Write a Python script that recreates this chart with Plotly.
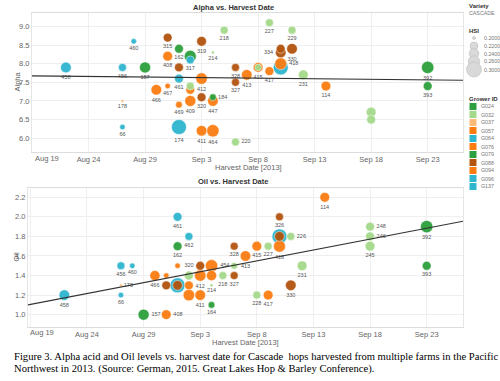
import numpy as np
import pandas as pd
import plotly.graph_objects as go

W, H = 500, 381

# ---------------- data: Alpha vs. Harvest Date ----------------
alpha_dates = ["2013-08-22", "2013-08-27", "2013-08-28", "2013-08-27", "2013-08-27", "2013-08-29",
               "2013-08-31", "2013-09-01", "2013-08-31", "2013-09-02", "2013-09-02", "2013-09-01",
               "2013-09-01", "2013-09-03", "2013-09-02", "2013-09-02", "2013-08-30", "2013-08-31",
               "2013-09-01", "2013-09-02", "2013-09-03", "2013-09-01", "2013-09-03", "2013-09-04",
               "2013-09-04", "2013-09-04", "2013-09-05", "2013-09-04", "2013-09-03", "2013-09-06",
               "2013-09-06", "2013-09-07", "2013-09-06", "2013-09-08", "2013-09-08", "2013-09-09",
               "2013-09-09", "2013-09-11", "2013-09-10", "2013-09-10", "2013-09-11", "2013-09-10",
               "2013-09-10", "2013-09-12", "2013-09-14", "2013-09-18", "2013-09-18", "2013-09-23",
               "2013-09-23"]
alpha_values = [7.9, 7.9, 8.6, 6.3, 7.0, 7.9,
                8.7, 8.4, 8.2, 8.2, 8.1, 7.9,
                7.6, 7.6, 7.4, 7.3, 7.3, 7.4,
                6.9, 7.0, 7.1, 6.3, 6.2, 6.2,
                7.1, 7.0, 8.9, 8.3, 8.6, 7.9,
                7.5, 7.7, 5.9, 7.9, 7.9, 7.8,
                9.1, 8.9, 8.3, 8.4, 8.4, 8.0,
                7.9, 7.7, 7.4, 6.7, 6.5, 7.9,
                7.4]
alpha_growers = ["G064", "G137", "G096", "G096", "G037", "G079",
                 "G088", "G079", "G057", "G079", "G064", "G088",
                 "G064", "G076", "G032", "G076", "G057", "G057",
                 "G094", "G094", "G088", "G064", "G076", "G094",
                 "G024", "G094", "G032", "G032", "G088", "G088",
                 "G088", "G076", "G032", "G076", "G032", "G076",
                 "G032", "G032", "G088", "G088", "G088", "G076",
                 "G064", "G032", "G057", "G032", "G032", "G024",
                 "G024"]
alpha_hsi = [0.25, 0.22, 0.21, 0.21, 0.20, 0.255,
             0.23, 0.23, 0.24, 0.265, 0.22, 0.23,
             0.23, 0.26, 0.22, 0.23, 0.25, 0.21,
             0.215, 0.255, 0.23, 0.30, 0.25, 0.27,
             0.215, 0.25, 0.22, 0.20, 0.24, 0.22,
             0.22, 0.25, 0.22, 0.24, 0.215, 0.23,
             0.22, 0.22, 0.25, 0.23, 0.25, 0.265,
             0.30, 0.24, 0.24, 0.24, 0.23, 0.27,
             0.23]
alpha_ids = ["458", "456", "460", "66", "178", "157",
             "315", "162", "408", "", "317", "",
             "461", "412", "", "", "466", "467",
             "469", "409", "320", "174", "411", "464",
             "184", "447", "218", "214", "319", "328",
             "327", "413", "220", "415", "", "417",
             "227", "229", "334", "", "330", "418",
             "", "231", "114", "", "", "392",
             "393"]

# ---------------- data: Oil vs. Harvest Date ----------------
oil_dates = ["2013-08-22", "2013-08-27", "2013-08-28", "2013-08-27", "2013-08-27", "2013-08-29",
             "2013-08-31", "2013-08-30", "2013-08-31", "2013-08-31", "2013-09-01", "2013-09-02",
             "2013-09-01", "2013-09-01", "2013-09-01", "2013-09-01", "2013-09-02", "2013-09-02",
             "2013-09-02", "2013-09-03", "2013-09-03", "2013-09-03", "2013-09-04", "2013-09-04",
             "2013-09-04", "2013-09-04", "2013-09-05", "2013-09-06", "2013-09-06", "2013-09-06",
             "2013-09-07", "2013-09-08", "2013-09-09", "2013-09-10", "2013-09-10", "2013-09-10",
             "2013-09-11", "2013-09-10", "2013-09-08", "2013-09-09", "2013-09-11", "2013-09-12",
             "2013-09-14", "2013-09-18", "2013-09-18", "2013-09-18", "2013-09-23", "2013-09-23"]
oil_values = [1.2, 1.5, 1.5, 1.2, 1.3, 1.0,
              1.0, 1.4, 1.4, 1.3, 2.0, 1.8,
              1.7, 1.5, 1.3, 1.3, 1.4, 1.3,
              1.2, 1.2, 1.4, 1.5, 1.5, 1.4,
              1.3, 1.1, 1.4, 1.4, 1.7, 1.5,
              1.6, 1.7, 1.7, 1.7, 1.8, 1.8,
              1.8, 2.0, 1.2, 1.2, 1.3, 1.5,
              2.2, 1.9, 1.8, 1.7, 1.9, 1.5]
oil_growers = ["G064", "G137", "G096", "G096", "G037", "G079",
               "G057", "G057", "G057", "G088", "G064", "G064",
               "G079", "G094", "G064", "G088", "G032", "G076",
               "G094", "G076", "G076", "G088", "G094", "G094",
               "G032", "G024", "G032", "G088", "G088", "G032",
               "G076", "G076", "G032", "G076", "G064", "G088",
               "G032", "G088", "G032", "G076", "G088", "G032",
               "G057", "G032", "G032", "G032", "G024", "G024"]
oil_hsi = [0.25, 0.22, 0.21, 0.21, 0.20, 0.255,
           0.24, 0.245, 0.21, 0.23, 0.23, 0.22,
           0.23, 0.21, 0.30, 0.24, 0.23, 0.23,
           0.26, 0.25, 0.26, 0.23, 0.27, 0.245,
           0.20, 0.215, 0.22, 0.22, 0.22, 0.215,
           0.25, 0.24, 0.22, 0.265, 0.30, 0.24,
           0.22, 0.22, 0.22, 0.24, 0.25, 0.24,
           0.24, 0.23, 0.23, 0.24, 0.27, 0.23]
oil_ids = ["458", "456", "460", "66", "178", "157",
           "408", "466", "", "", "461", "462",
           "162", "", "", "", "", "",
           "", "411", "412", "320", "454", "",
           "214", "164", "218", "327", "328", "",
           "413", "415", "227", "418", "", "",
           "226", "326", "228", "417", "330", "231",
           "114", "248", "246", "245", "392", "393"]

# regression (trend) lines at the plot edges
alpha_trend_dates = ["2013-08-19 00:00", "2013-09-26 03:00"]
alpha_trend_values = [7.675, 7.555]
oil_trend_dates = ["2013-08-18 19:00", "2013-09-26 05:00"]
oil_trend_values = [1.10, 1.955]

# axes / legend
x_tick_dates = ["2013-08-19", "2013-08-24", "2013-08-29", "2013-09-03",
                "2013-09-08", "2013-09-13", "2013-09-18", "2013-09-23"]
x_tick_text = ["Aug 19", "Aug 24", "Aug 29", "Sep 3", "Sep 8", "Sep 13", "Sep 18", "Sep 23"]
alpha_ticks = [6.0, 6.5, 7.0, 7.5, 8.0, 8.5, 9.0]
oil_ticks = [1.0, 1.2, 1.4, 1.6, 1.8, 2.0, 2.2]
grower_ids = ["G024", "G032", "G037", "G057", "G064", "G076", "G079", "G088", "G094", "G096", "G137"]
hsi_legend_values = [0.20, 0.22, 0.24, 0.26, 0.30]
hsi_legend_text = ["0.2000", "0.2200", "0.2400", "0.2600", "0.3000"]

# ---------------- styling ----------------
GREEN = "#2ca03c"
LGREEN = "#a4d98a"
LORANGE = "#ffbb78"
ORANGE = "#fb7d12"
TEAL = "#2fb6cf"
BROWN = "#b3540f"
grower_colors = {"G024": GREEN, "G032": LGREEN, "G037": LORANGE, "G057": ORANGE,
                 "G064": TEAL, "G076": ORANGE, "G079": GREEN, "G088": BROWN,
                 "G094": ORANGE, "G096": TEAL, "G137": TEAL}

alpha_right = {"184", "418", "220"}
alpha_left = {"334"}
oil_right = {"178", "157", "408", "454", "226", "248", "246"}
oil_left = {"320"}


def hsi_size(h):
    return np.interp(h, [0.20, 0.22, 0.30], [3.0, 8.0, 15.0])


def px(x):
    return x / W


def py(y):
    return 1 - y / H


def bubble_trace(dates, values, growers, hsi, ids, right, left, xa, ya):
    df = pd.DataFrame({"d": pd.to_datetime(dates), "v": values, "g": growers, "h": hsi, "id": ids})
    df = df.sort_values("h", ascending=False, kind="stable")
    pos = ["middle right" if i in right else "middle left" if i in left else "bottom center"
           for i in df["id"]]
    return go.Scatter(
        x=df["d"], y=df["v"], mode="markers+text", text=df["id"], textposition=pos,
        textfont=dict(size=5.5, color="#555", family="Liberation Sans, Arial"),
        marker=dict(size=hsi_size(df["h"].values), color=[grower_colors[g] for g in df["g"]],
                    opacity=0.95, line=dict(color="white", width=0.5)),
        xaxis=xa, yaxis=ya, showlegend=False, hoverinfo="skip", cliponaxis=False)


fig = go.Figure()
fig.add_trace(bubble_trace(alpha_dates, alpha_values, alpha_growers, alpha_hsi, alpha_ids,
                           alpha_right, alpha_left, "x", "y"))
fig.add_trace(go.Scatter(x=pd.to_datetime(alpha_trend_dates), y=alpha_trend_values, mode="lines",
                         line=dict(color="#333", width=1.2), xaxis="x", yaxis="y",
                         showlegend=False, hoverinfo="skip"))
fig.add_trace(bubble_trace(oil_dates, oil_values, oil_growers, oil_hsi, oil_ids,
                           oil_right, oil_left, "x2", "y2"))
fig.add_trace(go.Scatter(x=pd.to_datetime(oil_trend_dates), y=oil_trend_values, mode="lines",
                         line=dict(color="#333", width=1.2), xaxis="x2", yaxis="y2",
                         showlegend=False, hoverinfo="skip"))

tickfont = dict(size=7.5, color="#666", family="Liberation Sans, Arial")
grid = "#efefef"
xtext_main = [""] + x_tick_text[1:]

common_x = dict(type="date", tickvals=pd.to_datetime(x_tick_dates), ticktext=xtext_main,
                showgrid=True, gridcolor=grid, showline=True, linecolor="#dcdcdc", mirror=True,
                zeroline=False, tickfont=tickfont, ticks="")
common_y = dict(showgrid=True, gridcolor=grid, showline=True, linecolor="#e6e6e6", mirror=True,
                zeroline=False, tickfont=tickfont, ticks="", tickformat=".1f")

fig.update_layout(
    width=W, height=H, margin=dict(l=0, r=0, t=0, b=0),
    paper_bgcolor="white", plot_bgcolor="white",
    xaxis=dict(domain=[px(32), px(463)], anchor="y",
               range=["2013-08-19 00:00", "2013-09-26 03:00"], **common_x),
    yaxis=dict(domain=[py(152), py(13)], anchor="x", range=[5.63, 9.36],
               tickvals=alpha_ticks, **common_y),
    xaxis2=dict(domain=[px(28), px(463)], anchor="y2",
                range=["2013-08-18 19:00", "2013-09-26 05:00"], **common_x),
    yaxis2=dict(domain=[py(327), py(188)], anchor="x2", range=[0.874, 2.295],
                tickvals=oil_ticks, **common_y),
)

ann = []
title_font = dict(size=7.5, color="#333", family="Liberation Sans, Arial")
axis_font = dict(size=7.5, color="#666", family="Liberation Sans, Arial")
ann.append(dict(text="<b>Alpha vs. Harvest Date</b>", x=px(233), y=py(7), font=title_font))
ann.append(dict(text="<b>Oil vs. Harvest Date</b>", x=px(233), y=py(181), font=title_font))
ann.append(dict(text="Harvest Date [2013]", x=px(248), y=py(167.5), font=axis_font))
ann.append(dict(text="Harvest Date [2013]", x=px(245), y=py(342.5), font=axis_font))
ann.append(dict(text="Alpha", x=px(10), y=py(82), textangle=-90, font=axis_font))
ann.append(dict(text="Oil", x=px(9), y=py(257), textangle=-90, font=axis_font))
# first date label sits flush with the plot's left edge
ann.append(dict(text=x_tick_text[0], x=px(33), y=py(158), xanchor="left", font=tickfont))
ann.append(dict(text=x_tick_text[0], x=px(28), y=py(332), xanchor="left", font=tickfont))

# legend
leg_bold = dict(size=6, color="#333", family="Liberation Sans, Arial")
leg_font = dict(size=5.3, color="#777", family="Liberation Sans, Arial")
ann.append(dict(text="<b>Variety</b>", x=px(467), y=py(6), xanchor="left", font=leg_bold))
ann.append(dict(text="CASCADE", x=px(467), y=py(13), xanchor="left", font=leg_font))
ann.append(dict(text="<b>HSI</b>", x=px(467), y=py(31), xanchor="left", font=leg_bold))
ann.append(dict(text="<b>Grower ID</b>", x=px(467), y=py(99), xanchor="left", font=leg_bold))

shapes = []
hsi_y = [38, 46, 53.5, 61.5, 69.5]
for v, t, yy in zip(hsi_legend_values, hsi_legend_text, hsi_y):
    d = float(hsi_size(v))
    shapes.append(dict(type="circle", xref="paper", yref="paper", xsizemode="pixel", ysizemode="pixel",
                       xanchor=px(474), yanchor=py(yy), x0=-d / 2, x1=d / 2, y0=-d / 2, y1=d / 2,
                       fillcolor="#d9d9d9", line=dict(color="#bdbdbd", width=0.6)))
    ann.append(dict(text=t, x=px(482), y=py(yy), xanchor="left", font=leg_font))

for i, g in enumerate(grower_ids):
    yy = 106.5 + 8 * i
    shapes.append(dict(type="rect", xref="paper", yref="paper", xsizemode="pixel", ysizemode="pixel",
                       xanchor=px(473), yanchor=py(yy), x0=-3.5, x1=3.5, y0=-3.5, y1=3.5,
                       fillcolor=grower_colors[g], line=dict(width=0)))
    ann.append(dict(text=g, x=px(479), y=py(yy), xanchor="left", font=leg_font))

# caption
cap_font = dict(size=10.6, color="black", family="Liberation Serif, Times New Roman, serif")
ann.append(dict(text="Figure 3. Alpha acid and Oil levels vs. harvest date for Cascade  hops harvested "
                     "from multiple farms in the Pacific",
                x=px(12), y=py(356), xanchor="left", font=cap_font))
ann.append(dict(text="Northwest in 2013. (Source: German, 2015. Great Lakes Hop &amp; Barley Conference).",
                x=px(12), y=py(369), xanchor="left", font=cap_font))

for a in ann:
    a.setdefault("xref", "paper")
    a.setdefault("yref", "paper")
    a.setdefault("showarrow", False)
    a.setdefault("yanchor", "middle")

fig.update_layout(annotations=ann, shapes=shapes)
fig.write_html("out.html", config={"displayModeBar": False},
               post_script="document.body.style.margin='0';document.body.style.overflow='hidden';")
